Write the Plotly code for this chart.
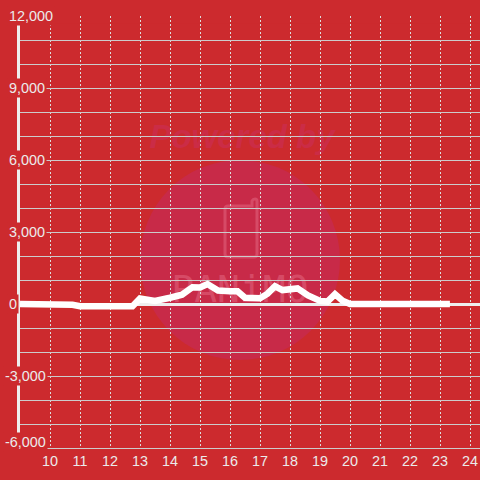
import plotly.graph_objects as go

hours = [9, 10, 10.5, 10.75, 11, 12, 12.75, 13, 13.5, 14, 14.4, 14.75, 15, 15.25, 15.6, 16, 16.25, 16.5, 17, 17.25, 17.5,
         17.75, 18, 18.25, 18.6, 19, 19.25, 19.5, 19.75, 20, 21, 22, 23.33]
values = [0, 0, 0, -30, -90, -90, -90, 230, 130, 260, 390, 700, 690, 830, 560, 530, 530, 260, 240, 430, 740,
          580, 630, 650, 360, 130, 100, 410, 140, 0, 0, 0, 0]
y_ticks = [12000, 9000, 6000, 3000, 0, -3000, -6000]
x_ticks = list(range(10, 25))

BG = "#cc2a2e"
TXT = "#ebebeb"
W, H = 480, 480
L, R, T, B = 20, 0, 16, 32
PW, PH = W - L - R, H - T - B


def px(x):
    return (x - L) / PW


def py(y):
    return 1 - (y - T) / PH


fig = go.Figure()
fig.add_trace(go.Scatter(x=hours, y=values, mode="lines", showlegend=False, hoverinfo="skip",
                         line=dict(color="white", width=6.5, shape="linear")))

shapes = [
    dict(type="circle", xref="paper", yref="paper", x0=px(140), x1=px(340), y0=py(160), y1=py(360),
         fillcolor="#c82a48", line_width=0, layer="below"),
    dict(type="path", xref="paper", yref="paper", layer="below",
         path=f"M {px(228)} {py(206)} L {px(252)} {py(206)} L {px(252)} {py(201)} Q {px(253)} {py(199)} {px(255)} {py(199)} "
              f"Q {px(257)} {py(199)} {px(257)} {py(201)} L {px(257)} {py(254)} Q {px(257)} {py(257)} {px(254)} {py(257)} "
              f"L {px(228)} {py(257)} Q {px(225)} {py(257)} {px(225)} {py(254)} L {px(225)} {py(209)} Q {px(225)} {py(206)} {px(228)} {py(206)} Z",
         line=dict(color="#d64a66", width=3)),
    dict(type="rect", xref="x", yref="y", x0=9, x1=24.34, y0=11680, y1=11980,
         fillcolor=BG, line_width=0, layer="below"),
    dict(type="rect", xref="paper", yref="paper", x0=px(140), x1=px(344), y0=py(113), y1=py(153),
         line_width=0, fillcolor="rgba(0,0,0,0)", layer="below",
         label=dict(text="<b><i>Powered by</i></b>", textposition="middle center",
                    font=dict(family="Liberation Sans", size=33, color="#cb2c46"))),
    dict(type="rect", xref="paper", yref="paper", x0=px(140), x1=px(340), y0=py(266), y1=py(306),
         line_width=0, fillcolor="rgba(0,0,0,0)", layer="below",
         label=dict(text="PANiMO", textposition="middle center",
                    font=dict(family="DejaVu Sans Mono", size=38, color="#d64a66"))),
]

annotations = []
for v in y_ticks:
    label = f"{v:,}"
    annotations.append(dict(
        text=label, xref="paper", yref="y", x=px(3 if v < 0 else 7), y=v, xanchor="left", yanchor="middle",
        yshift=6 if v == -6000 else 0, showarrow=False, bgcolor=BG, borderpad=1,
        font=dict(family="Liberation Sans", size=14.4, color=TXT)))

fig.update_layout(
    width=W, height=H, autosize=False, paper_bgcolor=BG, plot_bgcolor=BG, showlegend=False,
    margin=dict(l=L, r=R, t=T, b=B), shapes=shapes, annotations=annotations,
    xaxis=dict(range=[9, 24.333], tickvals=x_ticks, ticktext=[str(x) for x in x_ticks], showgrid=True,
               gridcolor="#dddddd", griddash="2px,2px", gridwidth=1, zeroline=False, showline=True, linecolor="#cccccc",
               linewidth=1, ticks="", ticklen=0, tickfont=dict(family="Liberation Sans", size=14.4, color=TXT)),
    yaxis=dict(range=[-6000, 12000], tick0=0, dtick=1000, showgrid=True, gridcolor="#cccccc", gridwidth=1,
               showticklabels=False, ticks="", zeroline=True, zerolinecolor="#eeeeee", zerolinewidth=3,
               showline=True, linecolor="#eeeeee", linewidth=3),
)
fig.write_html("out.html", config={"displayModeBar": False},
               post_script="document.body.style.margin='0';document.body.style.background='#cc2a2e';")
